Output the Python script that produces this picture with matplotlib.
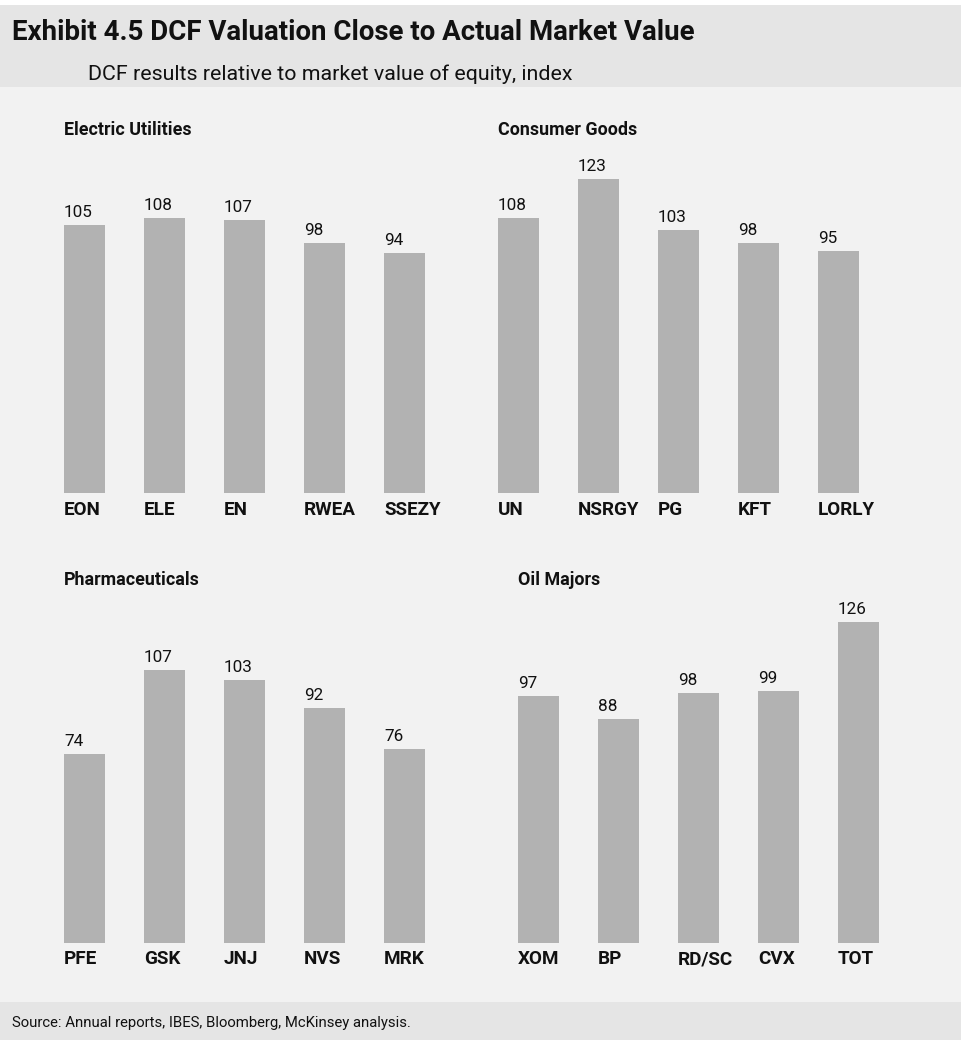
import matplotlib
matplotlib.use("Agg")
import matplotlib.pyplot as plt
from matplotlib import font_manager
from matplotlib.patches import Rectangle

# ---------------- data ----------------
panel_titles = ["Electric Utilities", "Consumer Goods", "Pharmaceuticals", "Oil Majors"]
utilities_labels = ["EON", "ELE", "EN", "RWEA", "SSEZY"]
utilities_values = [105, 108, 107, 98, 94]
consumer_labels = ["UN", "NSRGY", "PG", "KFT", "LORLY"]
consumer_values = [108, 123, 103, 98, 95]
pharma_labels = ["PFE", "GSK", "JNJ", "NVS", "MRK"]
pharma_values = [74, 107, 103, 92, 76]
oil_labels = ["XOM", "BP", "RD/SC", "CVX", "TOT"]
oil_values = [97, 88, 98, 99, 126]

title = "Exhibit 4.5 DCF Valuation Close to Actual Market Value"
subtitle = "DCF results relative to market value of equity, index"
source = "Source: Annual reports, IBES, Bloomberg, McKinsey analysis."

# ---------------- fonts ----------------
names = {f.name for f in font_manager.fontManager.ttflist}
FONT = "DejaVu Sans"
for cand in ["Roboto", "Liberation Sans", "Noto Sans"]:
    if cand in names:
        FONT = cand
        break
plt.rcParams["font.family"] = [FONT, "DejaVu Sans"]

W, H = 962, 1040
BAR = "#b2b2b2"
BG = "#f2f2f2"
BAND = "#e5e5e5"
TXT = "#111111"
PX = 72.0 / 100  # points per pixel

fig = plt.figure(figsize=(W / 100, H / 100), dpi=100, facecolor="white")

# background layer in pixel coordinates
bg = fig.add_axes([0, 0, 1, 1])
bg.set_xlim(0, W)
bg.set_ylim(H, 0)
bg.axis("off")
bg.add_patch(Rectangle((0, 5), W, 82, color=BAND, lw=0))
bg.add_patch(Rectangle((0, 87), W, 915, color=BG, lw=0))
bg.add_patch(Rectangle((0, 1002), W, 38, color=BAND, lw=0))
bg.text(12, 40, title, fontsize=19.9, fontweight="bold", color=TXT, va="baseline", ha="left")
bg.text(88, 80, subtitle, fontsize=15.4, color=TXT, va="baseline", ha="left")
bg.text(12, 1027, source, fontsize=10.7, color=TXT, va="baseline", ha="left")

SCALE = 2.55  # pixels per index unit
panels = [
    (utilities_labels, utilities_values, panel_titles[0], 84.5, 493, 135, 22),
    (consumer_labels, consumer_values, panel_titles[1], 518.5, 493, 135, 22),
    (pharma_labels, pharma_values, panel_titles[2], 84.5, 943, 585, 21),
    (oil_labels, oil_values, panel_titles[3], 538.5, 943, 585, 21),
]
BW = 41 / 80.0
for labels, values, ptitle, c0, bottom, tbase, lab_off in panels:
    top = bottom - 360
    ax = fig.add_axes([(c0 - 40) / W, 1 - bottom / H, 400 / W, (bottom - top) / H])
    ax.set_xlim(-0.5, 4.5)
    ax.set_ylim(0, (bottom - top) / SCALE)
    ax.axis("off")
    ax.patch.set_visible(False)
    x = list(range(len(values)))
    ax.bar(x, values, width=BW, color=BAR, lw=0)
    for i, (lab, v) in enumerate(zip(labels, values)):
        ax.annotate(str(v), xy=(i - BW / 2, v), xytext=(0, 8 * PX), textcoords="offset points",
                    ha="left", va="baseline", fontsize=12.3, color=TXT)
        ax.annotate(lab, xy=(i - BW / 2, 0), xytext=(0, -lab_off * PX), textcoords="offset points",
                    ha="left", va="baseline", fontsize=13.6, fontweight="bold", color=TXT)
    bg.text(c0 - 20.5, tbase, ptitle, fontsize=12.9, fontweight="bold", color=TXT,
            va="baseline", ha="left")

fig.savefig("out.png", dpi=100, facecolor="white")
